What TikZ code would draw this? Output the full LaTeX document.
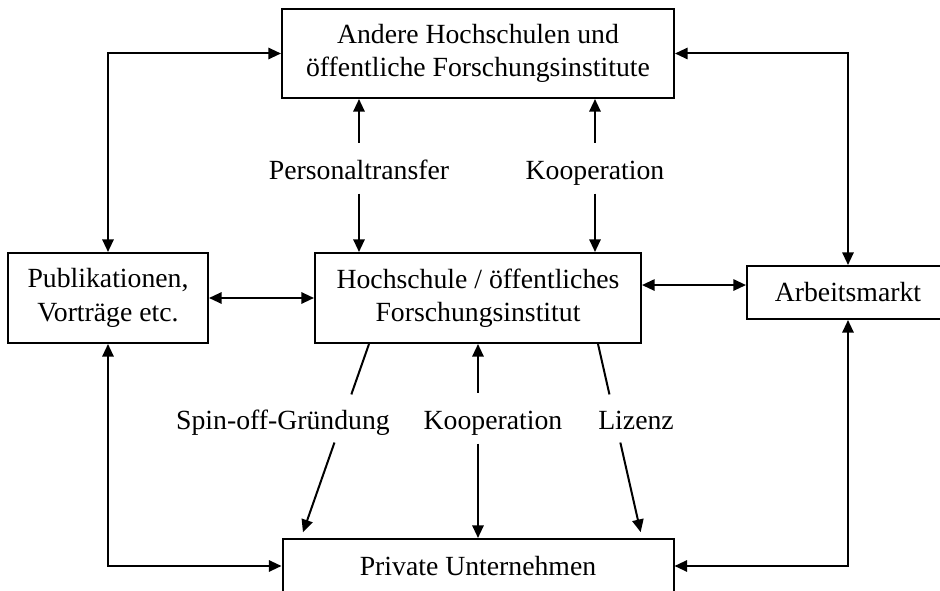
\documentclass[tikz,border=0pt]{standalone}
\usepackage{fontspec}
\setmainfont{Liberation Serif}
\usetikzlibrary{arrows.meta,calc}

\begin{document}
\begin{tikzpicture}[x=0.75pt,y=-0.75pt,>={Triangle[length=9.5pt,width=8.5pt]},line width=1.5pt,font=\fontsize{20.8}{25}\selectfont]
\tikzstyle{box}=[draw,align=center,inner sep=0pt]
\tikzstyle{lbl}=[inner sep=0pt,text height=27pt,text depth=9.4pt,anchor=base]
\useasboundingbox (0,0) rectangle (940,591);
\clip (0,0) rectangle (940,591);
% boxes
\node[box,minimum width=294pt,minimum height=66.75pt] (ahs) at (478,53.5) {Andere Hochschulen und\\öffentliche Forschungsinstitute};
\node[box,minimum width=150pt,minimum height=67.5pt] (pub) at (108,298) {Publikationen,\\Vorträge etc.};
\node[box,minimum width=244.5pt,minimum height=67.5pt] (hs) at (478,298) {Hochschule / öffentliches\\Forschungsinstitut};
\node[box,minimum width=151.5pt,minimum height=39.75pt] (am) at (848,292.5) {Arbeitsmarkt};
\node[box,minimum width=293.25pt,minimum height=40.5pt] (pu) at (478,566) {Private Unternehmen};
% labels
\node[lbl] (pt) at (359,180) {Personaltransfer};
\node[lbl] (ko1) at (595,180) {Kooperation};
\node[lbl] (so) at (283,430) {Spin-off-Gründung};
\node[lbl] (ko2) at (493,430) {Kooperation};
\node[lbl] (li) at (636,430) {Lizenz};
% outer connections
\draw[<->] (ahs.west) -| (pub.north);
\draw[<->] (ahs.east) -| (am.north);
\draw[<->] (pub.south) |- (pu.west);
\draw[<->] (am.south) |- (pu.east);
\draw[<->] (pub.east) -- (hs.west);
\draw[<->] ([yshift=5.6pt]hs.east |- am.west) -- ([yshift=5.6pt]am.west);
% transfer channels
\draw[->] (pt.north) -- (pt.north |- ahs.south);
\draw[->] (pt.south) -- (pt.south |- hs.north);
\draw[->] (ko1.north) -- (ko1.north |- ahs.south);
\draw[->] (ko1.south) -- (ko1.south |- hs.north);
\draw[->] (hs.south |- ko2.north) -- (hs.south);
\draw[->] (hs.south |- ko2.south) -- (pu.north);
\coordinate (s0) at ([xshift=-81.75pt]hs.south);
\coordinate (s1) at ([xshift=-132.75pt]pu.north);
\coordinate (l0) at ([xshift=90pt]hs.south);
\coordinate (l1) at ([xshift=123pt]pu.north);
\draw (s0) -- ($(s0)!0.26!(s1)$);
\draw[->,shorten >=4.5pt] ($(s0)!0.508!(s1)$) -- (s1);
\draw (l0) -- ($(l0)!0.26!(l1)$);
\draw[->,shorten >=4.5pt] ($(l0)!0.508!(l1)$) -- (l1);
\end{tikzpicture}
\end{document}
